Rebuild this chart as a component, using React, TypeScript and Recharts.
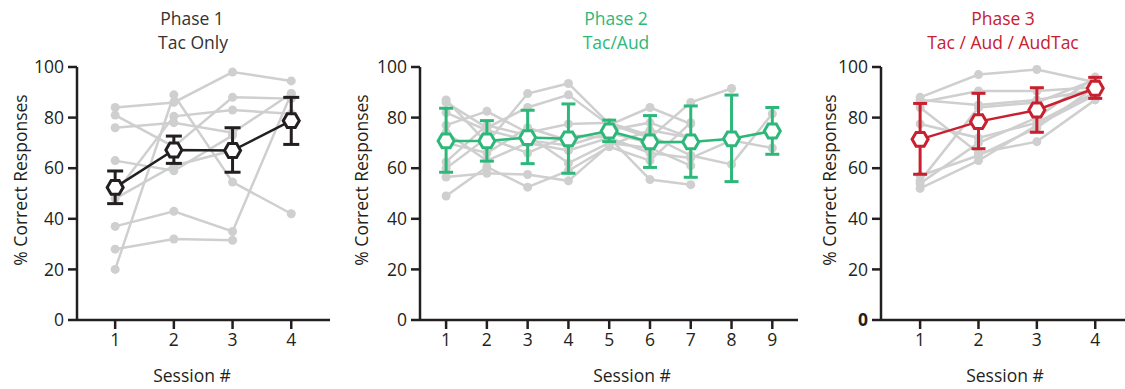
import React from 'react';
import { LineChart, Line, XAxis, YAxis, ErrorBar } from 'recharts';

const FONT = '"Open Sans", "Noto Sans", sans-serif';
const INK = '#231f20';
const GREY = '#cfcfcf';
const GREEN = '#2db87a';
const RED = '#c8202f';

const yTicks = [0, 20, 40, 60, 80, 100];

// Phase 1 - Tac Only
const sessions1 = [1, 2, 3, 4];
const phase1Subjects = [
  [84, 86, 98, 94.5],
  [81, 68.5, 88, 87.5],
  [76, 78, 74, 89.5],
  [63, 59, 73, null],
  [50, 80.5, 83, 81.5],
  [48, 61, 67, null],
  [37, 43, 35, 89.5],
  [28, 32, 31.5, null],
  [20, 89, 54.5, 42],
];
const phase1Mean = [52.4, 67.2, 67, 78.8];
const phase1Low = [46, 61.9, 58.4, 69.4];
const phase1High = [58.9, 72.7, 76, 88];

// Phase 2 - Tac/Aud
const sessions2 = [1, 2, 3, 4, 5, 6, 7, 8, 9];
const phase2Subjects = [
  [87, 70, 89.5, 93.5, 77.5, 72, 86, 91.5, null],
  [86, 76, 84, 89, 77, 84, 77.5, null, null],
  [77, 82.5, 74, 77.5, 78, 73, 65, 61.5, 81.5],
  [74, 63, 70, 67, 72, 66, 64, 71, 68],
  [62.5, 77, 73, 62, 70, 68, 61, null, null],
  [60, 72, 66, 73, 72, 55.5, 53.5, null, null],
  [56.5, 58, 57.5, 55, 69, 75, 72, null, null],
  [49, 60.5, 52.5, 59, 68.5, 63, 78, null, null],
  [82, 75, 71, 69, 74, 70, 70.5, null, null],
  [70, 66, 76, 71, 75, 78, 72, null, null],
];
const phase2Mean = [70.8, 70.8, 72.1, 71.6, 74.7, 70.4, 70.4, 71.6, 74.7];
const phase2Low = [58.4, 62.8, 61.8, 58, 70.5, 60.3, 56.4, 54.7, 65.5];
const phase2High = [83.7, 78.8, 82.9, 85.4, 79, 80.8, 84.6, 88.9, 84];

// Phase 3 - Tac / Aud / AudTac
const sessions3 = [1, 2, 3, 4];
const phase3Subjects = [
  [88, 97, 99, 94],
  [87, 85, 87, 91],
  [86, 90.5, 90.5, 92],
  [84, 66, 70.5, 87],
  [77.5, 72, 78, 90],
  [57, 65, 76, 92],
  [55, 84, 86, 95],
  [52, 63, 77, 89],
  [54, 70, 80, 96],
];
const phase3Mean = [71.4, 78.4, 83, 91.6];
const phase3Low = [57.6, 67.7, 74.2, 87.6];
const phase3High = [85.6, 89.6, 91.8, 95.9];

function buildRows(sessions, subjects, mean, low, high) {
  return sessions.map((s, i) => {
    const row: any = {
      session: s,
      mean: mean[i],
      err: [mean[i] - low[i], high[i] - mean[i]],
    };
    subjects.forEach((vals, k) => {
      row['s' + k] = vals[i];
    });
    return row;
  });
}

const HexDot = ({ cx, cy, color, index }: any) => {
  if (cx == null || cy == null) return null;
  const r = 8;
  const pts = [0, 60, 120, 180, 240, 300]
    .map((a) => {
      const t = (a * Math.PI) / 180;
      return `${cx + r * Math.cos(t)},${cy + r * Math.sin(t)}`;
    })
    .join(' ');
  return <polygon key={`hex-${index}`} points={pts} fill="#fff" stroke={color} strokeWidth={3} />;
};

const YTick = ({ x, y, payload, boldZero }: any) => (
  <text
    x={x}
    y={y}
    dy="0.35em"
    textAnchor="end"
    fill={INK}
    fontSize={17.5}
    fontFamily={FONT}
    fontWeight={boldZero && payload.value === 0 ? 700 : 400}
  >
    {payload.value}
  </text>
);

const Caption = ({ x, y, color = INK, rotate = false, children }: any) => (
  <div
    style={{
      position: 'absolute',
      left: x,
      top: y,
      transform: `translate(-50%, -50%)${rotate ? ' rotate(-90deg)' : ''}`,
      whiteSpace: 'nowrap',
      fontFamily: FONT,
      fontSize: 17.5,
      color,
      lineHeight: 1,
    }}
  >
    {children}
  </div>
);

const Panel = ({
  left,
  width,
  yAxisWidth,
  rightMargin,
  domain,
  sessions,
  subjects,
  mean,
  low,
  high,
  color,
  cap,
  boldZero = false,
}: any) => {
  const rows = buildRows(sessions, subjects, mean, low, high);
  const axisStyle = { stroke: INK, strokeWidth: 2.5 };
  return (
    <div style={{ position: 'absolute', left, top: 0, width, height: 389 }}>
      {/* individual subjects + axes */}
      <LineChart
        width={width}
        height={389}
        data={rows}
        margin={{ top: 67, right: rightMargin, bottom: 0, left: 0 }}
      >
        <XAxis
          dataKey="session"
          type="number"
          domain={domain}
          ticks={sessions}
          interval={0}
          allowDataOverflow
          height={69}
          tickSize={9}
          tickMargin={5}
          axisLine={axisStyle}
          tickLine={axisStyle}
          tick={{ fill: INK, fontSize: 17.5, fontFamily: FONT }}
        />
        <YAxis
          type="number"
          domain={[0, 100]}
          ticks={yTicks}
          interval={0}
          width={yAxisWidth}
          tickSize={9}
          tickMargin={4}
          axisLine={axisStyle}
          tickLine={axisStyle}
          tick={<YTick boldZero={boldZero} />}
        />
        {subjects.map((_, k) => (
          <Line
            key={k}
            dataKey={'s' + k}
            stroke={GREY}
            strokeWidth={2.5}
            dot={{ r: 4.5, fill: GREY, stroke: GREY, strokeWidth: 0 }}
            activeDot={false}
            isAnimationActive={false}
          />
        ))}
      </LineChart>
      {/* group mean with error bars, layered on top */}
      <div style={{ position: 'absolute', left: 0, top: 0 }}>
        <LineChart
          width={width}
          height={389}
          data={rows}
          margin={{ top: 67, right: rightMargin, bottom: 69, left: yAxisWidth }}
        >
          <XAxis dataKey="session" type="number" domain={domain} allowDataOverflow hide />
          <YAxis type="number" domain={[0, 100]} hide />
          <Line
            dataKey="mean"
            stroke={color}
            strokeWidth={2.5}
            dot={(p: any) => <HexDot key={`hex-${p.index}`} {...p} color={color} />}
            activeDot={false}
            isAnimationActive={false}
          >
            <ErrorBar dataKey="err" direction="y" width={cap} stroke={color} strokeWidth={3} />
          </Line>
        </LineChart>
      </div>
    </div>
  );
};

export default function App() {
  return (
    <div style={{ position: 'absolute', left: 0, top: 0, width: 1125, height: 389, background: '#fff', overflow: 'hidden' }}>
      <Panel
        left={0}
        width={340}
        yAxisWidth={77}
        rightMargin={10}
        domain={[0.35, 4.66]}
        sessions={sessions1}
        subjects={phase1Subjects}
        mean={phase1Mean}
        low={phase1Low}
        high={phase1High}
        color={INK}
        cap={8}
      />
      <Panel
        left={340}
        width={470}
        yAxisWidth={80}
        rightMargin={12}
        domain={[0.36, 9.63]}
        sessions={sessions2}
        subjects={phase2Subjects}
        mean={phase2Mean}
        low={phase2Low}
        high={phase2High}
        color={GREEN}
        cap={7}
      />
      <Panel
        left={810}
        width={315}
        yAxisWidth={71}
        rightMargin={0}
        domain={[0.33, 4.51]}
        sessions={sessions3}
        subjects={phase3Subjects}
        mean={phase3Mean}
        low={phase3Low}
        high={phase3High}
        color={RED}
        cap={7}
        boldZero
      />

      <Caption x={192} y={19} color="#333">Phase 1</Caption>
      <Caption x={193} y={43} color="#333">Tac Only</Caption>
      <Caption x={616} y={19} color={GREEN}>Phase 2</Caption>
      <Caption x={616} y={43} color={GREEN}>Tac/Aud</Caption>
      <Caption x={1003} y={19} color={RED}>Phase 3</Caption>
      <Caption x={1003} y={43} color={RED}>Tac / Aud / AudTac</Caption>

      <Caption x={192} y={376}>Session #</Caption>
      <Caption x={632} y={376}>Session #</Caption>
      <Caption x={1005} y={376}>Session #</Caption>

      <Caption x={21} y={180} rotate>% Correct Responses</Caption>
      <Caption x={362} y={180} rotate>% Correct Responses</Caption>
      <Caption x={830} y={180} rotate>% Correct Responses</Caption>
    </div>
  );
}
